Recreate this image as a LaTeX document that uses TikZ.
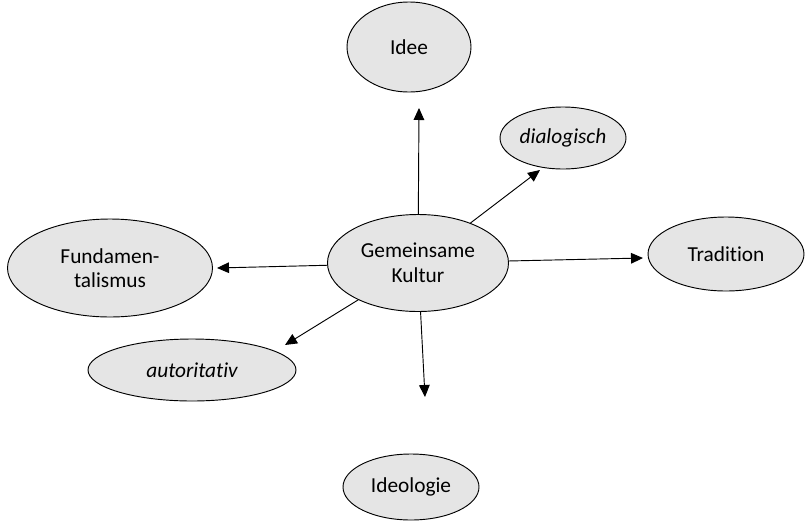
\documentclass[tikz,border=0pt]{standalone}
\usepackage{fontspec}
\setmainfont{Carlito}[Ligatures={NoCommon}]
\usetikzlibrary{shapes.geometric,arrows.meta}
\begin{document}
\begin{tikzpicture}[x=0.75pt,y=-0.75pt,
	bubble/.style={ellipse, draw=black, line width=0.7pt, fill=bubblegray, inner sep=0pt,
		align=center, font=\fontsize{16}{18.5}\selectfont},
	arr/.style={-{Triangle[length=9pt,width=8pt]}, line width=0.7pt}]

	% Define colors
	\definecolor{bubblegray}{rgb}{0.9, 0.9, 0.9}

	% Fix the page size
	\useasboundingbox (0,0) rectangle (806,525);

	% Draw the ellipses
	\node[bubble, minimum width=93pt, minimum height=67.5pt] (idee) at (409,47) {Idee};
	\node[bubble, minimum width=94.5pt, minimum height=46.5pt] (dialogisch) at (563,138) {\itshape dialogisch};
	\node[bubble, minimum width=153.75pt, minimum height=73.5pt] (fundamentalismus) at (110,268) {Fundamen-\\talismus};
	\node[bubble, minimum width=135.75pt, minimum height=72.75pt] (kultur) at (418,263) {Gemeinsame\\Kultur};
	\node[bubble, minimum width=117pt, minimum height=55.5pt] (tradition) at (726,254) {Tradition};
	\node[bubble, minimum width=156pt, minimum height=46.5pt] (autoritativ) at (192,370) {\itshape autoritativ};
	\node[bubble, minimum width=102pt, minimum height=49.5pt] (ideologie) at (411,487) {Ideologie};

	% Arrow ends
	\coordinate (idee end) at (419,108);
	\coordinate (dialogisch end) at (540,170);
	\coordinate (fundamentalismus end) at (217,268);
	\coordinate (tradition end) at (643,258);
	\coordinate (autoritativ end) at (285,345);
	\coordinate (ideologie end) at (425,397);

	% Draw the arrows
	\foreach \target in {idee, dialogisch, fundamentalismus, tradition, autoritativ, ideologie} {
		\draw[arr] (kultur) -- (\target\space end);
	}

\end{tikzpicture}
\end{document}
